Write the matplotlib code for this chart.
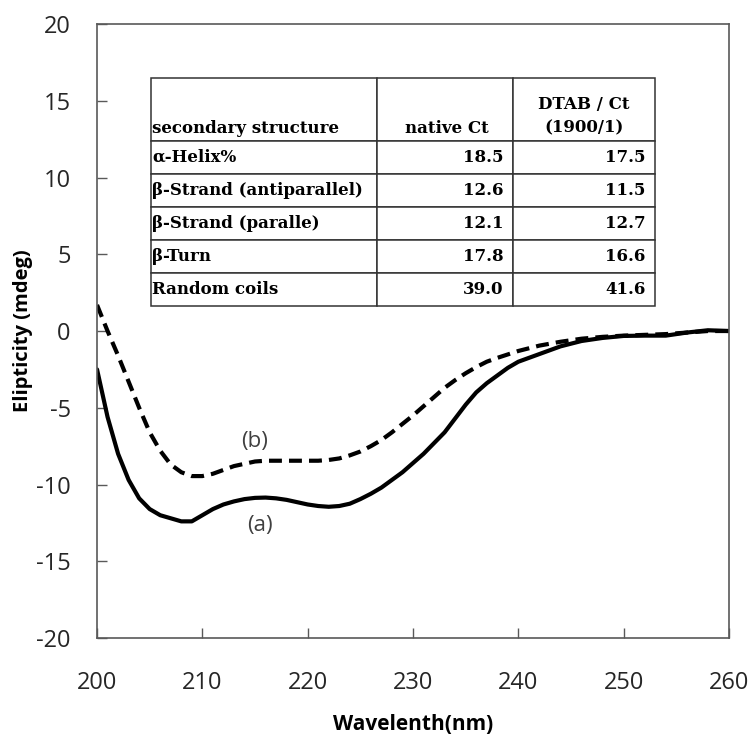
import types
import matplotlib
matplotlib.use('Agg')
import matplotlib.pyplot as plt

plt.rcParams['axes.unicode_minus'] = False

# CD spectra
wl_a = [200, 201, 202, 203, 204, 205, 206, 207, 208, 209, 210, 211, 212, 213, 214, 215, 216, 217, 218,
        219, 220, 221, 222, 223, 224, 225, 226, 227, 228, 229, 230, 231, 232, 233, 234, 235, 236, 237,
        238, 239, 240, 242, 244, 246, 248, 250, 252, 254, 256, 258, 260]
ell_a = [-2.5, -5.6, -8.0, -9.7, -10.9, -11.6, -12.0, -12.2, -12.4, -12.4, -12.0, -11.6, -11.3, -11.1,
         -10.95, -10.87, -10.85, -10.9, -11.0, -11.15, -11.3, -11.4, -11.45, -11.4, -11.25, -10.95, -10.6,
         -10.2, -9.7, -9.2, -8.6, -8.0, -7.3, -6.6, -5.7, -4.8, -4.0, -3.4, -2.9, -2.4, -2.0, -1.5, -1.0,
         -0.65, -0.45, -0.32, -0.3, -0.3, -0.1, 0.05, 0.0]

wl_b = [200, 201, 202, 203, 204, 205, 206, 207, 208, 209, 210, 211, 212, 213, 214, 215, 216, 217, 218,
        219, 220, 221, 222, 223, 224, 225, 226, 227, 228, 229, 230, 231, 232, 233, 234, 235, 236, 237,
        238, 240, 242, 244, 246, 248, 250, 252, 254, 256, 258, 260]
ell_b = [1.7, 0.0, -1.6, -3.3, -5.0, -6.6, -7.8, -8.7, -9.2, -9.45, -9.45, -9.3, -9.05, -8.8, -8.65,
         -8.5, -8.45, -8.45, -8.45, -8.45, -8.45, -8.45, -8.4, -8.3, -8.1, -7.85, -7.5, -7.1, -6.6, -6.05,
         -5.5, -4.9, -4.3, -3.7, -3.2, -2.75, -2.35, -2.0, -1.75, -1.3, -0.95, -0.7, -0.5, -0.38, -0.3,
         -0.25, -0.2, -0.1, 0.0, 0.0]

# secondary structure table
structures = ['α-Helix%', 'β-Strand (antiparallel)', 'β-Strand (paralle)', 'β-Turn', 'Random coils']
native_ct = [18.5, 12.6, 12.1, 17.8, 39.0]
dtab_ct = [17.5, 11.5, 12.7, 16.6, 41.6]
headers = ['secondary structure', 'native Ct', 'DTAB / Ct\n(1900/1)']


def text_pos(self, renderer):
    # like Cell._set_text_position, but header text sits at the bottom of the cell
    bbox = self.get_window_extent(renderer)
    ha = self._text.get_horizontalalignment()
    if ha == 'center':
        x = bbox.x0 + bbox.width / 2
    elif ha == 'left':
        x = bbox.x0 + bbox.width * self.PAD
    else:
        x = bbox.x0 + bbox.width * (1 - self.PAD)
    if self._text.get_verticalalignment() == 'bottom':
        y = bbox.y0 + 4
    else:
        y = bbox.y0 + bbox.height / 2
    self._text.set_position((x, y))


fig = plt.figure(figsize=(7.51, 7.37), dpi=100)
ax = fig.add_axes([0.1292, 0.1343, 0.8415, 0.8331])

ax.plot(wl_a, ell_a, color='black', lw=3, solid_capstyle='round')
ax.plot(wl_b, ell_b, color='black', lw=3, dashes=(3.1, 1.7))

lab_font = dict(family='Open Sans', fontsize=16, color='#404040')
ax.text(215.0, -7.2, '(b)', ha='center', va='center', **lab_font)
ax.text(215.5, -12.7, '(a)', ha='center', va='center', **lab_font)

ax.set_xlim(200, 260)
ax.set_ylim(-20, 20)
ax.set_xticks(range(200, 261, 10))
ax.set_yticks(range(-20, 21, 5))
for sp in ax.spines.values():
    sp.set_color('#595959')
    sp.set_linewidth(1.2)
ax.tick_params(direction='in', length=7, width=1.0, color='#595959', labelsize=17, labelcolor='#262626')
ax.tick_params(axis='x', pad=24)
ax.tick_params(axis='y', pad=19)
for t in ax.get_xticklabels() + ax.get_yticklabels():
    t.set_family('Open Sans')

ax.set_xlabel('Wavelenth(nm)', family='Open Sans', fontsize=15, fontweight='bold')
ax.set_ylabel('Elipticity (mdeg)', family='Open Sans', fontsize=14.5, fontweight='bold')
ax.xaxis.set_label_coords(0.5, -0.124)
ax.yaxis.set_label_coords(-0.101, 0.5)

cell_text = [[s, f'{a:.1f}', f'{b:.1f}'] for s, a, b in zip(structures, native_ct, dtab_ct)]
tab = ax.table(cellText=cell_text, colLabels=headers, colWidths=[0.3575, 0.2155, 0.2255],
               bbox=[0.085, 0.5406, 0.7985, 0.3714])
tab.auto_set_font_size(False)
for (r, c), cell in tab.get_celld().items():
    cell.set_edgecolor('#333333')
    cell.set_linewidth(1.1)
    cell.set_height(0.102 if r == 0 else 0.0539)
    cell._set_text_position = types.MethodType(text_pos, cell)
    txt = cell.get_text()
    txt.set_fontfamily('DejaVu Serif')
    txt.set_fontweight('bold')
    txt.set_fontsize(12)
    if c == 0:
        txt.set_horizontalalignment('left')
        cell.PAD = 0.006
    else:
        txt.set_horizontalalignment('right')
        cell.PAD = 0.07
    if r == 0:
        txt.set_verticalalignment('bottom')
        if c == 1:
            cell.PAD = 0.18
        elif c == 2:
            txt.set_horizontalalignment('center')
            txt.set_multialignment('center')
            txt.set_linespacing(1.5)

fig.savefig('out.png', dpi=100)
